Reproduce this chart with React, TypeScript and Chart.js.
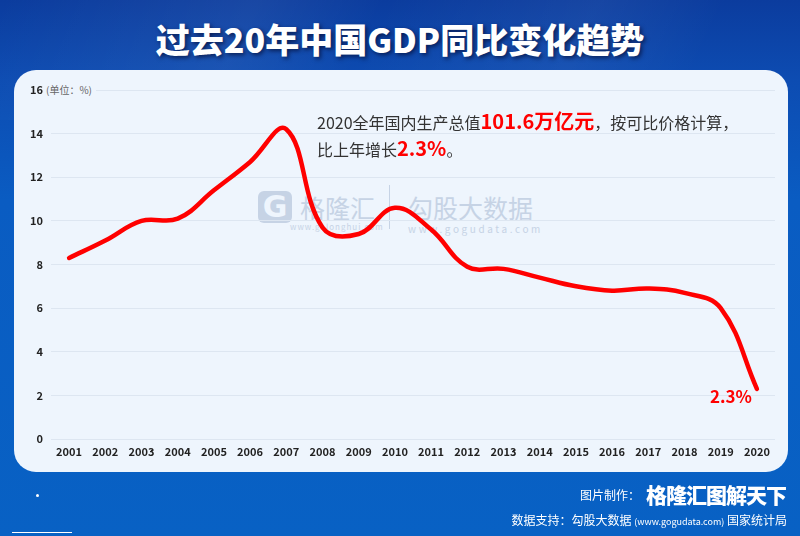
import React, { useEffect, useRef } from "react";
import { Chart, registerables } from "chart.js";

Chart.register(...registerables);

const years = ["2001","2002","2003","2004","2005","2006","2007","2008","2009","2010","2011","2012","2013","2014","2015","2016","2017","2018","2019","2020"];
const gdpGrowth = [8.3, 9.1, 10.0, 10.1, 11.4, 12.7, 14.2, 9.7, 9.4, 10.6, 9.6, 7.9, 7.8, 7.4, 7.0, 6.8, 6.9, 6.7, 6.0, 2.3];
const yMin = 0;
const yMax = 16;
const yStep = 2;

const CJK = '"Noto Sans CJK SC", "Noto Sans", sans-serif';

export default function App() {
  const ref = useRef<HTMLCanvasElement | null>(null);

  useEffect(() => {
    if (!ref.current) return;
    const chart = new Chart(ref.current, {
      type: "line",
      data: {
        labels: years,
        datasets: [
          {
            data: gdpGrowth,
            borderColor: "#ff0000",
            borderWidth: 4.5,
            tension: 0.4,
            pointRadius: 0,
            fill: false,
            borderCapStyle: "round",
          },
        ],
      },
      options: {
        animation: false,
        responsive: false,
        layout: { padding: { left: 14, right: 25, top: 90, bottom: 72 } },
        plugins: { legend: { display: false }, tooltip: { enabled: false } },
        scales: {
          x: {
            offset: true,
            grid: { display: false, drawTicks: false },
            border: { display: false },
            ticks: {
              padding: 6,
              color: "#222",
              font: { family: CJK, size: 11, weight: "bold" },
              maxRotation: 0,
              autoSkip: false,
            },
            afterFit: (s: any) => { s.height = 25; },
          },
          y: {
            min: yMin,
            max: yMax,
            grid: {
              drawTicks: false,
              color: (ctx: any) => (ctx.tick && ctx.tick.value === yMax ? "rgba(0,0,0,0)" : "#dde6f1"),
              lineWidth: 1,
            },
            border: { display: false },
            ticks: {
              stepSize: yStep,
              padding: 8,
              color: "#222",
              font: { family: CJK, size: 11, weight: "bold" },
            },
            afterFit: (s: any) => { s.width = 37; },
          },
        },
      },
    });
    return () => chart.destroy();
  }, []);

  return (
    <div style={{ position: "fixed", left: 0, top: 0, width: 800, height: 536, overflow: "hidden", fontFamily: CJK,
      background: "linear-gradient(180deg, #0b3c9e 0px, #0d4cb2 80px, #0a5cc2 200px, #0861c4 536px)" }}>
      {/* diagonal light streaks */}
      <div style={{ position: "absolute", left: 0, top: 0, width: 800, height: 120,
        background: "linear-gradient(115deg, rgba(255,255,255,0) 0%, rgba(255,255,255,0.06) 30%, rgba(255,255,255,0) 45%, rgba(255,255,255,0.05) 70%, rgba(255,255,255,0) 85%)" }} />
      {/* title */}
      <div style={{ position: "absolute", left: 0, top: 16, width: 800, textAlign: "center", color: "#fff",
        fontSize: 34, fontWeight: 900, lineHeight: "46px", textShadow: "2px 2px 4px rgba(0,0,30,0.6)", whiteSpace: "nowrap" }}>
        过去20年中国GDP同比变化趋势
      </div>
      {/* panel */}
      <div style={{ position: "absolute", left: 14, top: 70, width: 774, height: 402, background: "#eef5fd", borderRadius: 22 }} />
      {/* watermark */}
      <div style={{ position: "absolute", left: 258, top: 190, height: 34, display: "flex", alignItems: "center", color: "#c6d3e5", whiteSpace: "nowrap" }}>
        <div style={{ width: 34, height: 32, borderRadius: 6, background: "#c6d3e5", color: "#eef5fd", fontSize: 30, fontWeight: 900,
          lineHeight: "32px", textAlign: "center", fontFamily: '"DejaVu Sans", sans-serif' }}>G</div>
        <div style={{ position: "relative", marginLeft: 8, fontSize: 25, lineHeight: "30px" }}>
          格隆汇
          <div style={{ position: "absolute", left: -10, top: 30, fontSize: 8, lineHeight: "10px", letterSpacing: 1 }}>www.gelonghui.com</div>
        </div>
        <div style={{ width: 1, height: 44, background: "#c6d3e5", marginLeft: 14, marginRight: 18 }} />
        <div style={{ position: "relative", fontSize: 25, lineHeight: "30px" }}>
          勾股大数据
          <div style={{ position: "absolute", left: 0, top: 31, fontSize: 10, lineHeight: "12px", letterSpacing: 2.6 }}>www.gogudata.com</div>
        </div>
      </div>
      {/* unit label + top gridline */}
      <div style={{ position: "absolute", left: 46, top: 83, fontSize: 10, lineHeight: "14px", color: "#666", whiteSpace: "nowrap" }}>(单位：%)</div>
      <div style={{ position: "absolute", left: 96, top: 90, width: 679, height: 1, background: "#dde6f1" }} />
      <canvas ref={ref} width={800} height={536} style={{ position: "absolute", left: 0, top: 0, width: 800, height: 536 }} />
      {/* annotation */}
      <div style={{ position: "absolute", left: 317, top: 108, color: "#333", fontSize: 16, lineHeight: "26px", whiteSpace: "nowrap" }}>
        <div>2020全年国内生产总值<span style={{ color: "#ff0000", fontWeight: 700, fontSize: 20 }}>101.6万亿元</span>，按可比价格计算，</div>
        <div>比上年增长<span style={{ color: "#ff0000", fontWeight: 700, fontSize: 20 }}>2.3%</span>。</div>
      </div>
      <div style={{ position: "absolute", left: 710, top: 384, color: "#ff0000", fontWeight: 700, fontSize: 17, lineHeight: "24px", whiteSpace: "nowrap" }}>2.3%</div>
      {/* footer */}
      <div style={{ position: "absolute", right: 14, top: 481, display: "flex", alignItems: "center", color: "#fff", whiteSpace: "nowrap" }}>
        <span style={{ fontSize: 12, marginRight: 6 }}>图片制作：</span>
        <span style={{ fontSize: 21, fontWeight: 900, letterSpacing: -1, lineHeight: "26px" }}>格隆汇图解天下</span>
      </div>
      <div style={{ position: "absolute", right: 13, top: 511, color: "#fff", fontSize: 12, lineHeight: "18px", whiteSpace: "nowrap" }}>
        数据支持：勾股大数据 <span style={{ fontSize: 9 }}>(www.gogudata.com)</span> 国家统计局
      </div>
      <div style={{ position: "absolute", left: 36, top: 494, width: 3, height: 3, borderRadius: 2, background: "#fff" }} />
      <div style={{ position: "absolute", left: 12, top: 532, width: 60, height: 1, background: "#fff" }} />
    </div>
  );
}
